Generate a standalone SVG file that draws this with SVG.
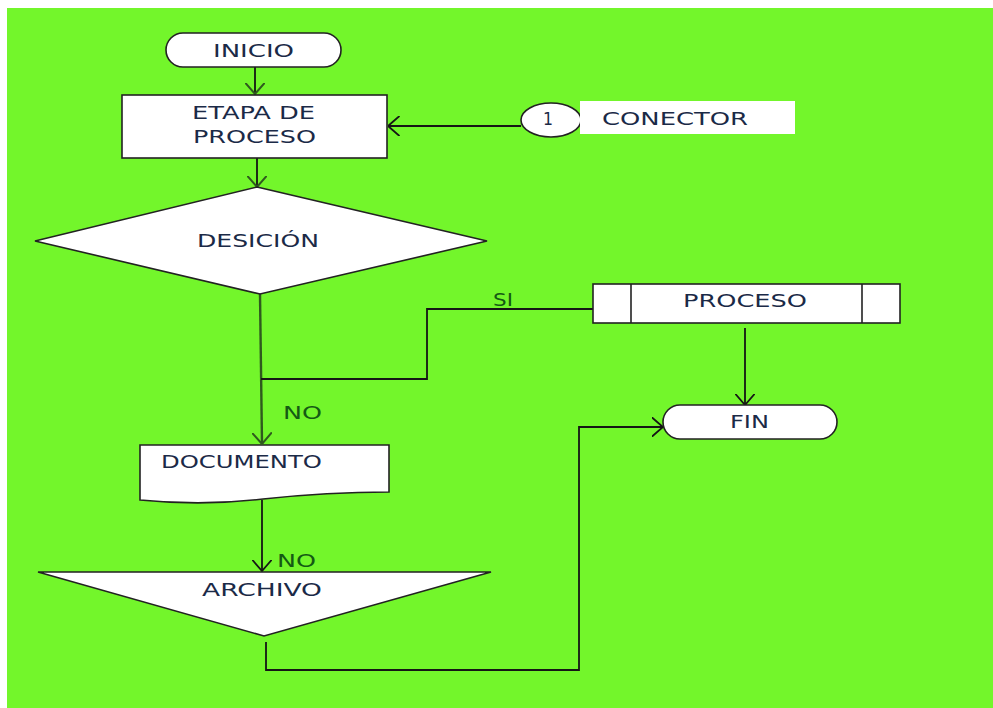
<svg xmlns="http://www.w3.org/2000/svg" width="993" height="708" viewBox="0 0 993 708">
  <style>
    .shape { fill: #ffffff; stroke: #222222; stroke-width: 1.6; }
    .txt { font-family: "DejaVu Sans", Verdana, sans-serif; font-size: 17px; fill: #1b2a47; }
    .lbl { font-family: "DejaVu Sans", Verdana, sans-serif; font-size: 17px; fill: #145a14; }
    .link { fill: none; stroke: #151515; stroke-width: 1.8; }
    .trunk { fill: none; stroke: #2f5a1e; stroke-width: 2.4; }
  </style>
  <defs>
    <marker id="open" viewBox="0 0 12 20" refX="11.5" refY="10" markerWidth="12" markerHeight="20" markerUnits="userSpaceOnUse" orient="auto">
      <path d="M0,0 L11.5,10 L0,20" fill="none" stroke="#151515" stroke-width="1.8"/>
    </marker>
    <marker id="openG" viewBox="0 0 12 20" refX="11.5" refY="10" markerWidth="12" markerHeight="20" markerUnits="userSpaceOnUse" orient="auto">
      <path d="M0,0 L11.5,10 L0,20" fill="none" stroke="#2f5a1e" stroke-width="2"/>
    </marker>
  </defs>

  <rect x="0" y="0" width="993" height="708" fill="#ffffff"/>
  <rect x="7" y="8" width="986" height="700" fill="#73f62b"/>

  <!-- connectors -->
  <g id="connectors">
    <path class="link" d="M255,67 L255,94" marker-end="url(#openG)"/>
    <path class="link" d="M257,158 L257,187" marker-end="url(#openG)"/>
    <path class="link" d="M521,126 L388,126" marker-end="url(#open)"/>
    <path class="trunk" d="M260,294 L262,444" marker-end="url(#openG)"/>
    <path class="link" d="M593,309 L427,309 L427,379 L261,379"/>
    <path class="link" d="M745,328 L745,405" marker-end="url(#open)"/>
    <path class="link" d="M262,500 L262,571" marker-end="url(#open)"/>
    <path class="link" d="M266,642 L266,670 L579,670 L579,427 L663,427" marker-end="url(#open)"/>
    <text class="lbl" x="493" y="306" textLength="20" lengthAdjust="spacingAndGlyphs">SI</text>
    <text class="lbl" x="283" y="419" textLength="39" lengthAdjust="spacingAndGlyphs">NO</text>
    <text class="lbl" x="277" y="567" textLength="39" lengthAdjust="spacingAndGlyphs">NO</text>
  </g>

  <!-- start terminal -->
  <g id="inicio">
    <rect class="shape" x="166" y="33" width="175" height="34" rx="17" ry="17"/>
    <text class="txt" x="213" y="57" textLength="81" lengthAdjust="spacingAndGlyphs">INICIO</text>
  </g>

  <!-- process step -->
  <g id="etapa">
    <rect class="shape" x="122" y="95" width="265" height="63"/>
    <text class="txt" x="192" y="119" textLength="123" lengthAdjust="spacingAndGlyphs">ETAPA DE</text>
    <text class="txt" x="193" y="143" textLength="123" lengthAdjust="spacingAndGlyphs">PROCESO</text>
  </g>

  <!-- off-page connector with its caption -->
  <g id="conector">
    <ellipse class="shape" cx="551" cy="120" rx="30" ry="17"/>
    <text class="txt" x="543" y="125" textLength="10" lengthAdjust="spacingAndGlyphs">1</text>
    <rect x="580" y="101" width="215" height="33" fill="#ffffff"/>
    <text class="txt" x="602" y="125" textLength="146" lengthAdjust="spacingAndGlyphs">CONECTOR</text>
  </g>

  <!-- decision -->
  <g id="desicion">
    <polygon class="shape" points="257,187 487,241 260,294 35,241"/>
    <text class="txt" x="197" y="247" textLength="122" lengthAdjust="spacingAndGlyphs">DESICIÓN</text>
  </g>

  <!-- predefined process -->
  <g id="proceso">
    <rect class="shape" x="593" y="284" width="307" height="39"/>
    <line class="shape" x1="631" y1="284" x2="631" y2="323"/>
    <line class="shape" x1="862" y1="284" x2="862" y2="323"/>
    <text class="txt" x="683" y="307" textLength="124" lengthAdjust="spacingAndGlyphs">PROCESO</text>
  </g>

  <!-- end terminal -->
  <g id="fin">
    <rect class="shape" x="663" y="405" width="174" height="34" rx="17" ry="17"/>
    <text class="txt" x="730" y="428" textLength="39" lengthAdjust="spacingAndGlyphs">FIN</text>
  </g>

  <!-- document -->
  <g id="documento">
    <path class="shape" d="M140,445 L389,445 L389,492 C340,492 300,495 263,499 C230,503 190,505 140,500 Z"/>
    <text class="txt" x="161" y="468" textLength="161" lengthAdjust="spacingAndGlyphs">DOCUMENTO</text>
  </g>

  <!-- storage / file -->
  <g id="archivo">
    <polygon class="shape" points="38,572 491,572 264,636"/>
    <text class="txt" x="202" y="596" textLength="120" lengthAdjust="spacingAndGlyphs">ARCHIVO</text>
  </g>
</svg>
